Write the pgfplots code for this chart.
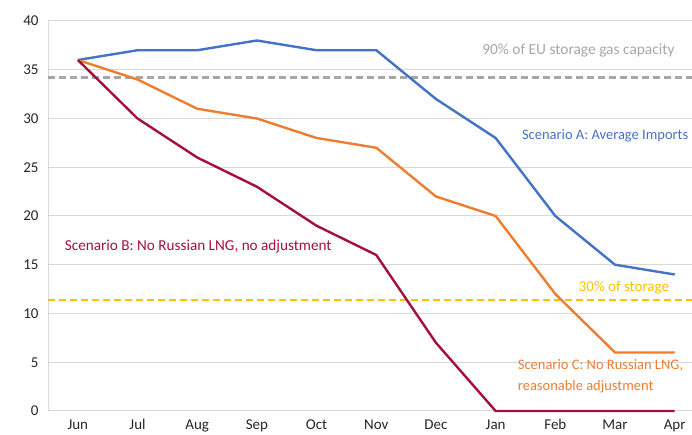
\documentclass[border=0pt]{standalone}
\usepackage{pgfplots}
\pgfplotsset{compat=1.18}
\usepackage{fontspec}
\setmainfont{Carlito}
\definecolor{cblue}{HTML}{4472C4}
\definecolor{corange}{HTML}{ED7D31}
\definecolor{cred}{HTML}{A50F3C}
\definecolor{cgray}{HTML}{A6A6A6}
\definecolor{cyellow}{HTML}{FFC000}
\definecolor{cgrid}{HTML}{D9D9D9}
\begin{document}
\begin{tikzpicture}[x=1pt,y=1pt]
\useasboundingbox (-48,-24) rectangle (644,411);
\begin{axis}[
  at={(0,0)}, anchor=south west,
  scale only axis, width=644pt, height=390pt,
  xmin=-0.5, xmax=10.29, ymin=0, ymax=40,
  xtick={0,...,10},
  xticklabels={Jun,Jul,Aug,Sep,Oct,Nov,Dec,Jan,Feb,Mar,Apr},
  ytick={0,5,...,40},
  ymajorgrids, grid style={cgrid, line width=1pt},
  axis x line*=bottom, axis y line*=left,
  axis line style={cgrid, line width=1pt},
  x axis line style={-}, y axis line style={-},
  major tick length=0pt,
  tick label style={font=\fontsize{15}{18}\selectfont, text=black!85},
  /pgf/number format/assume math mode=true,
  yticklabel style={xshift=-6pt},
  xticklabel style={yshift=-5pt},
  clip=false,
]
\addplot[cgray, dash pattern=on 7pt off 4pt, line width=2.2pt] coordinates {(-0.5,34.2) (10.29,34.2)};
\addplot[cyellow, dash pattern=on 7pt off 4pt, line width=2.2pt] coordinates {(-0.5,11.4) (10.29,11.4)};
\addplot[cblue, line width=2.4pt] coordinates {(0,36) (1,37) (2,37) (3,38) (4,37) (5,37) (6,32) (7,28) (8,20) (9,15) (10,14)};
\addplot[corange, line width=2.4pt] coordinates {(0,36) (1,34) (2,31) (3,30) (4,28) (5,27) (6,22) (7,20) (8,12) (9,6) (10,6)};
\addplot[cred, line width=2.4pt] coordinates {(0,36) (1,30) (2,26) (3,23) (4,19) (5,16) (6,7) (7,0) (8,0) (9,0) (10,0)};
\node[anchor=east, inner xsep=0pt, text=cgray, font=\fontsize{15.4}{18}\selectfont] at (axis cs:10.0,37.0) {90\% of EU storage gas capacity};
\node[anchor=east, inner xsep=0pt, text=cblue, font=\fontsize{14.5}{18}\selectfont] at (axis cs:10.23,28.2) {Scenario A: Average Imports};
\node[anchor=west, inner xsep=0pt, text=cred, font=\fontsize{15.2}{18}\selectfont] at (axis cs:-0.22,16.9) {Scenario B: No Russian LNG, no adjustment};
\node[anchor=west, inner xsep=0pt, text=cyellow, font=\fontsize{15}{18}\selectfont] at (axis cs:8.39,12.6) {30\% of storage};
\node[anchor=north west, align=left, text=corange, font=\fontsize{14.5}{20.5}\selectfont, inner xsep=0pt] at (axis cs:7.37,5.6) {Scenario C: No Russian LNG,\\reasonable adjustment};
\end{axis}
\end{tikzpicture}
\end{document}
